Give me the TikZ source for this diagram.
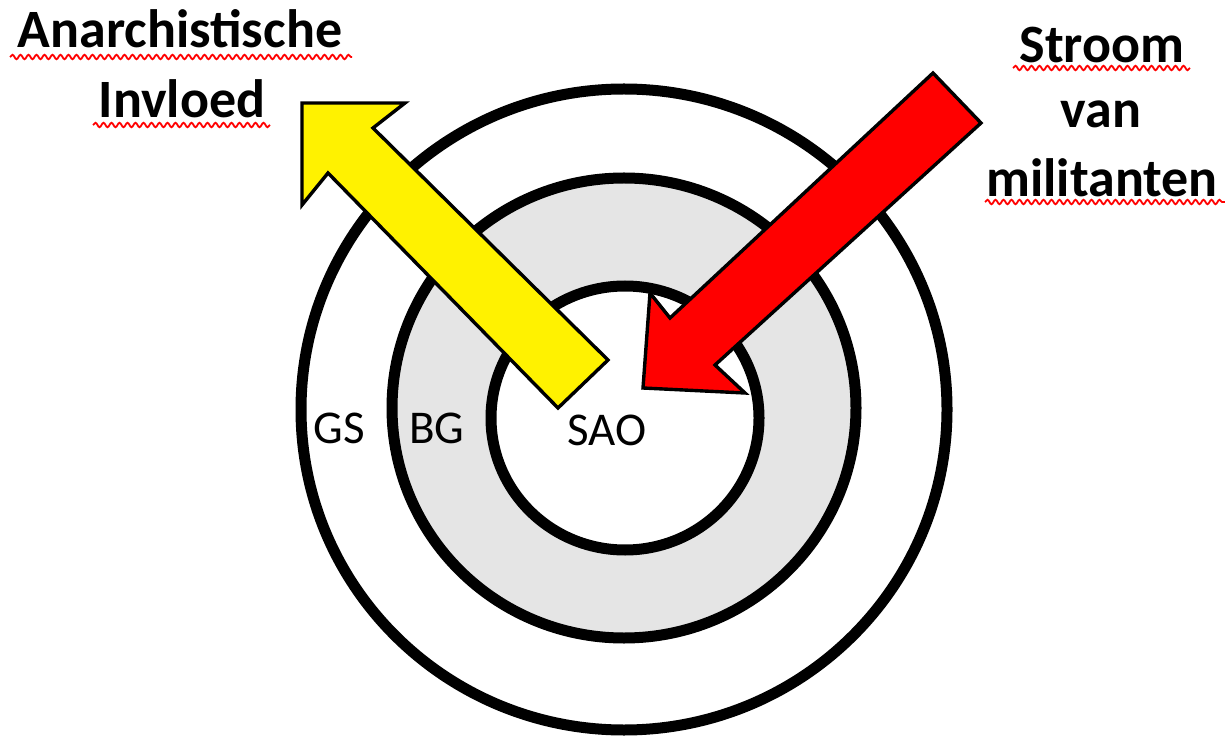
\documentclass[tikz,border=0pt]{standalone}
\usepackage{fontspec}
\setmainfont{Carlito}
\usetikzlibrary{positioning,decorations.pathmorphing}

\tikzset{
    ring/.style={line width=5.5pt},
    bigarrow/.style={draw=black, line width=1.7pt, line join=miter},
    title/.style={font=\bfseries\fontsize{27}{32}\selectfont, inner sep=0pt, anchor=base},
    zone/.style={font=\fontsize{23.5}{28}\selectfont, inner sep=0pt, anchor=base},
    squiggle/.style={red, line width=0.9pt, decorate,
        decoration={snake, amplitude=1.1pt, segment length=4pt}}
}

\begin{document}
\begin{tikzpicture}[x=0.5pt, y=-0.5pt]
    \useasboundingbox (0,0) rectangle (1225,737);
    \fill[white] (0,0) rectangle (1225,737);

    % rings
    \draw[ring, fill=white] (624,409.5) ellipse [x radius=161.5pt, y radius=160.25pt];
    \draw[ring, fill=gray!20] (624,408) ellipse [x radius=116pt, y radius=115pt];
    \draw[ring, fill=white] (625,418) ellipse [x radius=67pt, y radius=66pt];

    % zone labels
    \node[zone] (gs) at (339,443) {GS};
    \node[zone] (bg) at (437,443) {BG};
    \node[zone] (sao) at (607,445) {SAO};

    % outgoing influence
    \draw[bigarrow, fill=yellow] (558,408) -- (328,173) -- (302,205) -- (302,103)
        -- (405,103) -- (373,128) -- (608,360) -- cycle;

    % incoming militants
    \draw[bigarrow, fill=red] (933,73) -- (670,318) -- (650,293) -- (643,388)
        -- (745,393) -- (715,365) -- (981,123) -- cycle;

    % titles
    \node[title] (anar) at (180,48) {Anarchistische};
    \node[title] (invl) at (182,118) {Invloed};
    \node[title] (stroom) at (1102,63) {Stroom};
    \node[title] (van) at (1101,128) {van};
    \node[title] (milit) at (1102,197) {militanten};

    % spelling marks
    \draw[squiggle] (10,57) -- (352,57);
    \draw[squiggle] (93,125) -- (270,125);
    \draw[squiggle] (1013,68) -- (1190,68);
    \draw[squiggle] (985,202) -- (1225,202);
\end{tikzpicture}
\end{document}
